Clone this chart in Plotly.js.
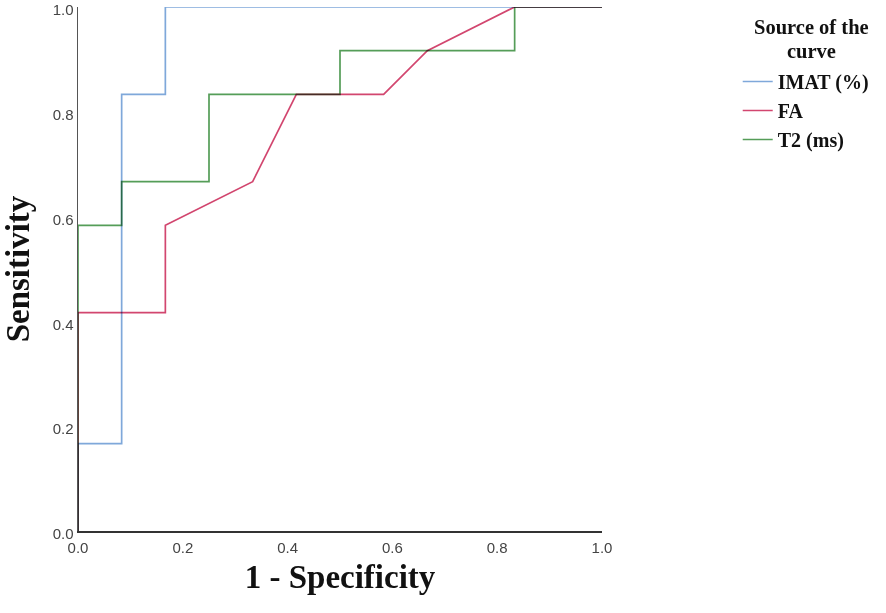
<!DOCTYPE html>
<html>
<head>
<meta charset="utf-8">
<script src="https://cdn.plot.ly/plotly-3.0.1.min.js"></script>
<style>
  html, body { margin: 0; padding: 0; background: #fff; }
  #roc { width: 886px; height: 613px; }
  /* overlapping curves darken each other, like the original export */
  #roc .scatterlayer path.js-line { mix-blend-mode: multiply; }
</style>
</head>
<body>
<div id="roc"></div>
<script>
// ROC curve points (12 positives / 12 negatives)
const imatX = [0, 0, 0.0833, 0.0833, 0.1667, 0.1667, 1];
const imatY = [0, 0.1667, 0.1667, 0.8333, 0.8333, 1, 1];

const faX = [0, 0, 0.1667, 0.1667, 0.3333, 0.4167, 0.5833, 0.6667, 0.8333, 1];
const faY = [0, 0.4167, 0.4167, 0.5833, 0.6667, 0.8333, 0.8333, 0.9167, 1, 1];

const t2X = [0, 0, 0.0833, 0.0833, 0.25, 0.25, 0.5, 0.5, 0.8333, 0.8333, 1];
const t2Y = [0, 0.5833, 0.5833, 0.6667, 0.6667, 0.8333, 0.8333, 0.9167, 0.9167, 1, 1];

const seriesNames = ['IMAT (%)', 'FA', 'T2 (ms)'];
const legendTitleLines = ['Source of the', 'curve'];
const tickVals = [0, 0.2, 0.4, 0.6, 0.8, 1.0];
const tickText = ['0.0', '0.2', '0.4', '0.6', '0.8', '1.0'];

const serif = 'Liberation Serif, Times New Roman, serif';
const sans = 'Liberation Sans, Arial, sans-serif';

function curve(x, y, name, color){
    return {
        x: x, y: y, name: name,
        type: 'scatter', mode: 'lines',
        line: {color: color, width: 1.7},
        hoverinfo: 'skip'
    };
}

var data = [
    curve(imatX, imatY, seriesNames[0], '#7fa8da'),
    curve(faX, faY, seriesNames[1], '#d2466f'),
    curve(t2X, t2Y, seriesNames[2], '#559d58')
];

// legend heading, one annotation per line so the spacing stays tight
var headY = [0.9618, 0.916];
var heading = legendTitleLines.map(function(t, i){
    return {
        text: t,
        xref: 'paper', yref: 'paper',
        x: 1.399, xanchor: 'center',
        y: headY[i], yanchor: 'middle',
        showarrow: false,
        font: {family: serif, size: 20.5, color: '#111', weight: 'bold'}
    };
});

var layout = {
    width: 886,
    height: 613,
    paper_bgcolor: '#fff',
    plot_bgcolor: '#fff',
    margin: {l: 78, r: 284, t: 7, b: 82, pad: 0, autoexpand: false},
    showlegend: true,
    legend: {
        x: 1.259, xanchor: 'left',
        y: 0.895, yanchor: 'top',
        font: {family: serif, size: 20, color: '#111', weight: 'bold'},
        bgcolor: 'rgba(0,0,0,0)',
        tracegroupgap: 0
    },
    annotations: heading,
    xaxis: {
        range: [0, 1],
        tickvals: tickVals, ticktext: tickText,
        ticks: '', showgrid: false, zeroline: false,
        showline: true, linecolor: '#333', linewidth: 1.6,
        tickfont: {family: sans, size: 15, color: '#444'},
        ticklabeloverflow: 'allow',
        ticklabelstandoff: 2,
        fixedrange: true,
        title: {
            text: '1 - Specificity',
            font: {family: serif, size: 33, color: '#111', weight: 'bold'},
            standoff: 10
        }
    },
    yaxis: {
        range: [0, 1],
        tickvals: tickVals, ticktext: tickText,
        ticks: '', showgrid: false, zeroline: false,
        showline: true, linecolor: '#555', linewidth: 1.4,
        tickfont: {family: sans, size: 15, color: '#444'},
        ticklabeloverflow: 'allow',
        ticklabelshift: 3,
        fixedrange: true,
        title: {
            text: 'Sensitivity',
            font: {family: serif, size: 33, color: '#111', weight: 'bold'},
            standoff: 18
        }
    }
};

Plotly.newPlot('roc', data, layout, {displayModeBar: false, staticPlot: true});
</script>
</body>
</html>
